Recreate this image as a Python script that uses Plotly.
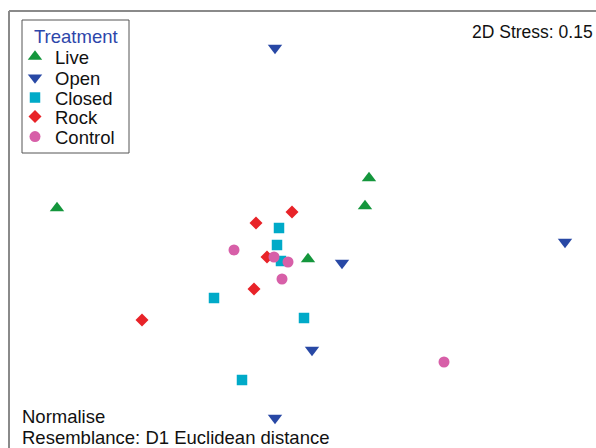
import plotly.graph_objects as go

# nMDS coordinates (arbitrary MDS units)
live_x = [-2.43, 0.69, 0.65, 0.08]
live_y = [0.42, 0.72, 0.44, -0.09]
open_x = [-0.25, 2.65, 0.42, 0.12, -0.25]
open_y = [2.02, 0.08, -0.13, -1.00, -1.68]
closed_x = [-0.21, -0.23, -0.19, -0.86, 0.04, -0.58]
closed_y = [0.22, 0.05, -0.11, -0.48, -0.68, -1.30]
rock_x = [-0.08, -0.44, -0.33, -0.46, -1.58]
rock_y = [0.38, 0.27, -0.07, -0.39, -0.70]
control_x = [-0.66, -0.26, -0.12, -0.18, 1.44]
control_y = [0.00, -0.07, -0.12, -0.29, -1.12]

groups = ["Live", "Open", "Closed", "Rock", "Control"]
xs = [live_x, open_x, closed_x, rock_x, control_x]
ys = [live_y, open_y, closed_y, rock_y, control_y]
symbols = ["triangle-up", "triangle-down", "square", "diamond", "circle"]
colors = ["rgb(20,150,60)", "rgb(40,72,165)", "rgb(0,170,200)", "rgb(232,35,40)", "rgb(215,95,168)"]
sizes = [12.5, 12.5, 10.5, 10, 11]

W, H = 596, 448
FONT = "Liberation Sans, Arial, Helvetica, sans-serif"
FS = 18.5

fig = go.Figure()
legend_rows_px = [57, 78, 98, 117, 137]
for i, g in enumerate(groups):
    lname = "legend" if i == 0 else f"legend{i+1}"
    fig.add_trace(go.Scatter(
        x=xs[i], y=ys[i], mode="markers", name=g,
        marker=dict(symbol=symbols[i], color=colors[i], size=sizes[i], line=dict(width=0)),
        legend=lname,
    ))

layout_legends = {}
for i, py in enumerate(legend_rows_px):
    lname = "legend" if i == 0 else f"legend{i+1}"
    layout_legends[lname] = dict(
        x=15 / W, y=1 - py / H, xanchor="left", yanchor="middle",
        bgcolor="rgba(0,0,0,0)", borderwidth=0,
        font=dict(family=FONT, size=FS, color="#111"),
        itemsizing="trace",
    )

fig.update_layout(
    width=W, height=H,
    margin=dict(l=0, r=0, t=0, b=0),
    paper_bgcolor="white", plot_bgcolor="white",
    showlegend=True,
    xaxis=dict(range=[-3.0, 2.96], visible=False, fixedrange=True),
    yaxis=dict(range=[-1.98, 2.5], visible=False, fixedrange=True),
    **layout_legends,
    shapes=[
        dict(type="line", xref="paper", yref="paper", x0=9 / W, x1=9 / W, y0=-0.05, y1=1 - 11 / H,
             line=dict(color="#8a8a8a", width=2)),
        dict(type="line", xref="paper", yref="paper", x0=9 / W, x1=1.05, y0=1 - 11 / H, y1=1 - 11 / H,
             line=dict(color="#8a8a8a", width=2)),
        dict(type="rect", xref="paper", yref="paper", x0=22 / W, x1=129 / W, y0=1 - 153 / H, y1=1 - 20 / H,
             line=dict(color="#555", width=1)),
    ],
    annotations=[
        dict(text="Treatment", xref="paper", yref="paper", x=32 / W, y=1 - 36 / H,
             xanchor="left", yanchor="middle", showarrow=False,
             font=dict(family=FONT, size=FS, color="rgb(45,70,170)")),
        dict(text="2D Stress: 0.15", xref="paper", yref="paper", x=595 / W, y=1 - 32 / H,
             xanchor="right", yanchor="middle", showarrow=False,
             font=dict(family=FONT, size=17.5, color="#111")),
        dict(text="Normalise", xref="paper", yref="paper", x=20 / W, y=1 - 416 / H,
             xanchor="left", yanchor="middle", showarrow=False,
             font=dict(family=FONT, size=FS, color="#111")),
        dict(text="Resemblance: D1 Euclidean distance", xref="paper", yref="paper", x=20 / W, y=1 - 437 / H,
             xanchor="left", yanchor="middle", showarrow=False,
             font=dict(family=FONT, size=FS, color="#111")),
    ],
)

fig.write_html(
    "out.html",
    config={"displayModeBar": False},
    post_script="document.body.style.margin='0';document.body.style.padding='0';document.body.style.overflow='hidden';",
)
